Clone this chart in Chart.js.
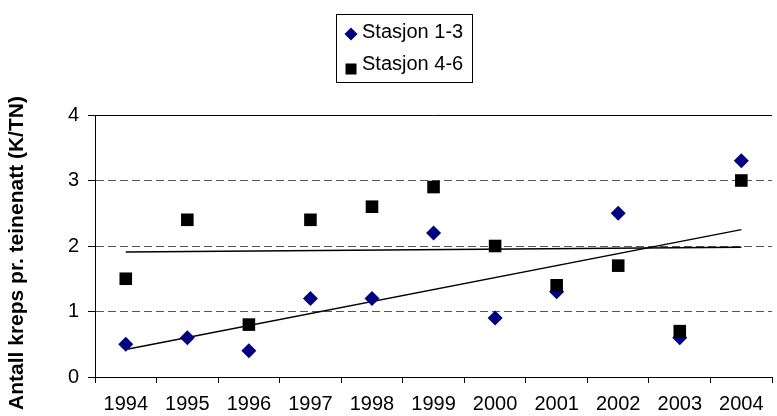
<!DOCTYPE html>
<html>
<head>
<meta charset="utf-8">
<script src="https://cdn.jsdelivr.net/npm/chart.js@4.4.0/dist/chart.umd.min.js"></script>
<style>
  html, body { margin: 0; padding: 0; background: #fff; overflow: hidden; }
  #wrap { position: relative; width: 781px; height: 416px; }
</style>
</head>
<body>
<div id="wrap"><canvas id="c"></canvas></div>
<script>
// Catch per trap-night, two station groups
const years = ['1994', '1995', '1996', '1997', '1998', '1999', '2000', '2001', '2002', '2003', '2004'];
const stasjon13 = [0.5, 0.6, 0.4, 1.2, 1.2, 2.2, 0.9, 1.3, 2.5, 0.6, 3.3];
const stasjon46 = [1.5, 2.4, 0.8, 2.4, 2.6, 2.9, 2.0, 1.4, 1.7, 0.7, 3.0];
// Linear trend lines: value at first and last year
const trendYears = ['1994', '2004'];
const trend13 = [0.42, 2.25];
const trend46 = [1.91, 1.98];
const yTicks = [0, 1, 2, 3, 4];
const seriesNames = ['Stasjon 1-3', 'Stasjon 4-6'];
const yTitle = 'Antall kreps pr. teinenatt (K/TN)';

const FONT = "'Liberation Sans', Arial, sans-serif";
Chart.defaults.font.family = FONT;
Chart.defaults.font.size = 20;
Chart.defaults.color = '#000';

// Solid frame line along the top of the plot area
const topFrame = {
  id: 'topFrame',
  beforeDatasetsDraw(chart) {
    const { ctx, chartArea } = chart;
    ctx.save();
    ctx.strokeStyle = '#000';
    ctx.lineWidth = 1;
    ctx.beginPath();
    ctx.moveTo(chartArea.left, Math.round(chartArea.top) + 0.5);
    ctx.lineTo(chartArea.right, Math.round(chartArea.top) + 0.5);
    ctx.stroke();
    ctx.restore();
  }
};

// Rotated value-axis title, centred a little below the plot middle
const axisTitle = {
  id: 'axisTitle',
  afterDraw(chart) {
    const ctx = chart.ctx;
    ctx.save();
    ctx.translate(17, 253);
    ctx.rotate(-Math.PI / 2);
    ctx.font = 'bold 21px ' + FONT;
    ctx.textAlign = 'center';
    ctx.textBaseline = 'middle';
    ctx.fillStyle = '#000';
    ctx.fillText(yTitle, 0, 0);
    ctx.restore();
  }
};

// Boxed legend with one entry per row
const boxLegend = {
  id: 'boxLegend',
  afterDraw(chart) {
    const ctx = chart.ctx;
    ctx.save();
    ctx.strokeStyle = '#000';
    ctx.lineWidth = 1;
    ctx.strokeRect(336.5, 14.5, 136, 68);
    ctx.font = '20px ' + FONT;
    ctx.textBaseline = 'middle';
    const rows = [32, 64];
    rows.forEach((y, i) => {
      const ds = chart.data.datasets[i];
      ctx.fillStyle = ds.backgroundColor;
      const cx = 351, cy = y + (i === 0 ? 2 : 5);
      if (ds.pointStyle === 'rectRot') {
        ctx.beginPath();
        ctx.moveTo(cx, cy - 6.5);
        ctx.lineTo(cx + 6.5, cy);
        ctx.lineTo(cx, cy + 6.5);
        ctx.lineTo(cx - 6.5, cy);
        ctx.closePath();
        ctx.fill();
      } else {
        ctx.fillRect(cx - 5.5, cy - 5.5, 11, 11);
      }
      ctx.fillStyle = '#000';
      ctx.fillText(seriesNames[i], 362, y);
    });
    ctx.restore();
  }
};

const trendPoints = (vals) => vals.map((v, i) => ({ x: trendYears[i], y: v }));

new Chart(document.getElementById('c'), {
  type: 'line',
  data: {
    labels: years,
    datasets: [
      {
        label: seriesNames[0],
        data: stasjon13,
        showLine: false,
        pointStyle: 'rectRot',
        pointRadius: 7.5,
        pointHoverRadius: 7.5,
        pointBorderWidth: 0,
        backgroundColor: '#000080',
        borderColor: '#000080',
        order: 2
      },
      {
        label: seriesNames[1],
        data: stasjon46,
        showLine: false,
        pointStyle: 'rect',
        pointRadius: 8.9,
        pointHoverRadius: 8.9,
        pointBorderWidth: 0,
        backgroundColor: '#000',
        borderColor: '#000',
        order: 1
      },
      {
        label: 'trend 1-3',
        data: trendPoints(trend13),
        borderColor: '#000',
        borderWidth: 1.5,
        pointRadius: 0,
        tension: 0,
        order: 3
      },
      {
        label: 'trend 4-6',
        data: trendPoints(trend46),
        borderColor: '#000',
        borderWidth: 1.5,
        pointRadius: 0,
        tension: 0,
        order: 3
      }
    ]
  },
  options: {
    responsive: true,
    maintainAspectRatio: false,
    animation: false,
    layout: { padding: { top: 115, left: 0, right: 0, bottom: 0 } },
    plugins: {
      legend: { display: false },
      tooltip: { enabled: false }
    },
    scales: {
      x: {
        type: 'category',
        offset: true,
        grid: {
          offset: true,
          drawOnChartArea: false,
          tickLength: 6,
          tickColor: '#000'
        },
        border: { display: true, color: '#000', width: 1 },
        ticks: { padding: 9, maxRotation: 0, autoSkip: false, font: { size: 20 } },
        afterFit(scale) { scale.height = 39; }
      },
      y: {
        min: 0,
        max: 4,
        afterBuildTicks(scale) { scale.ticks = yTicks.map(v => ({ value: v })); },
        grid: {
          color: (c) => (c.tick && (c.tick.value === 0 || c.tick.value === 4)) ? 'rgba(0,0,0,0)' : '#555',
          tickColor: '#000',
          tickLength: 7,
          lineWidth: 1
        },
        border: { display: true, color: '#000', width: 1, dash: [8, 4] },
        ticks: { padding: 9, font: { size: 20 } },
        afterFit(scale) { scale.width = 95; }
      }
    }
  },
  plugins: [topFrame, axisTitle, boxLegend]
});
</script>
</body>
</html>
